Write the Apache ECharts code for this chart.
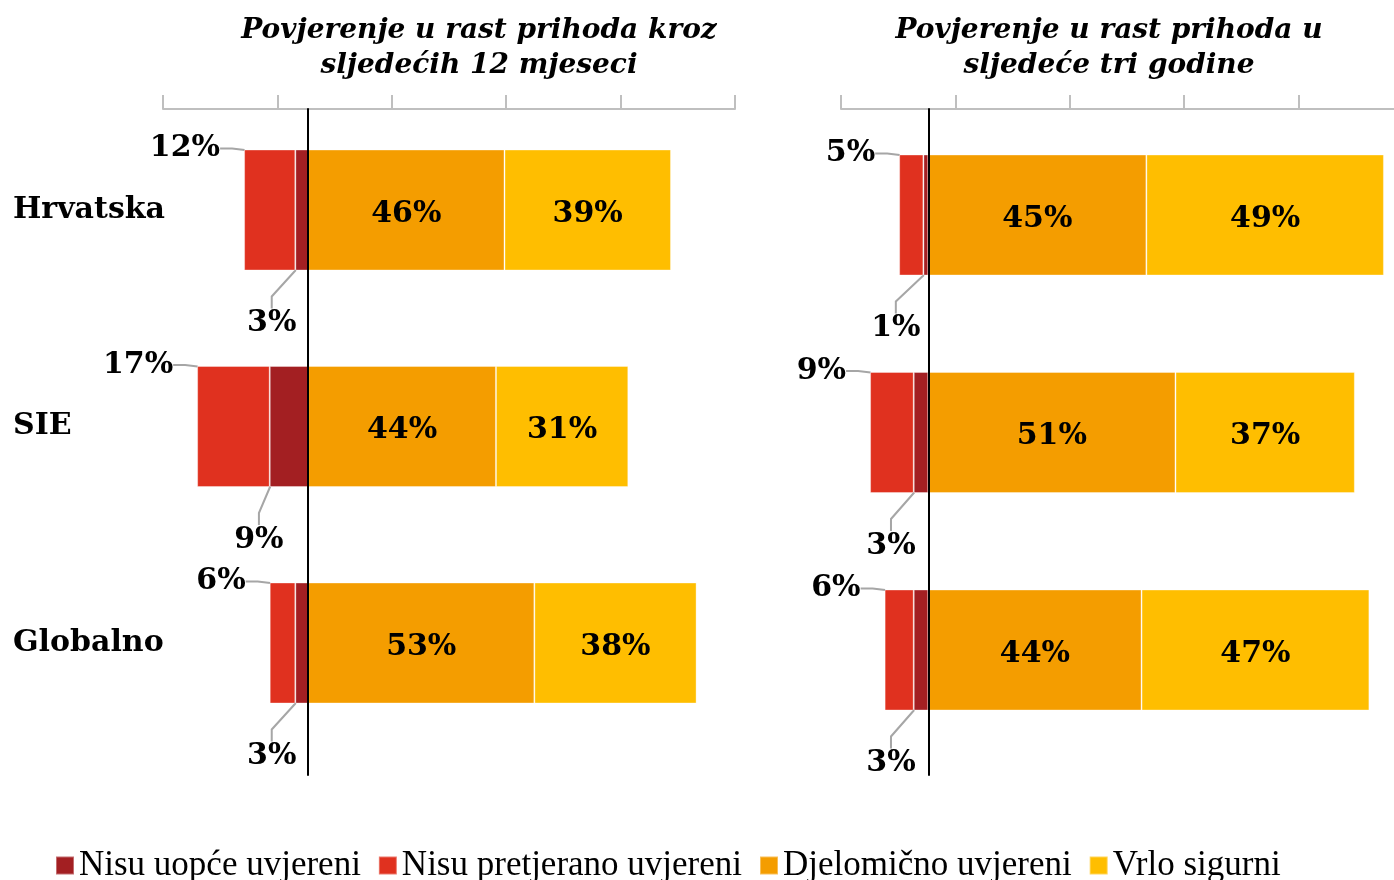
<!DOCTYPE html>
<html>
<head>
<meta charset="utf-8">
<script src="https://cdn.jsdelivr.net/npm/echarts@6/dist/echarts.min.js"></script>
<style>
  html, body { margin: 0; padding: 0; background: #fff; }
  #chart { width: 1394px; height: 880px; }
</style>
</head>
<body>
<div id="chart"></div>
<script>
  var categories = ['Hrvatska', 'SIE', 'Globalno'];
  var seriesNames = ['Nisu uopće uvjereni', 'Nisu pretjerano uvjereni', 'Djelomično uvjereni', 'Vrlo sigurni'];
  var titles = ['Povjerenje u rast prihoda kroz\nsljedećih 12 mjeseci', 'Povjerenje u rast prihoda u\nsljedeće tri godine'];

  // sljedećih 12 mjeseci (%)
  var mj_nisuUopce = [3, 9, 3];
  var mj_nisuPretjerano = [12, 17, 6];
  var mj_djelomicno = [46, 44, 53];
  var mj_vrloSigurni = [39, 31, 38];

  // sljedeće tri godine (%)
  var god_nisuUopce = [1, 3, 3];
  var god_nisuPretjerano = [5, 9, 6];
  var god_djelomicno = [45, 51, 44];
  var god_vrloSigurni = [49, 37, 47];

  var colors = ['#A31F22', '#E0311F', '#F49D00', '#FFBE00'];
  var serif = 'DejaVu Serif';

  var chart = echarts.init(document.getElementById('chart'));

  var labelText = {
    fontFamily: serif,
    fontWeight: 'bold',
    fontSize: 30,
    color: '#000'
  };

  function neg(arr) {
    return arr.map(function (v) { return -v; });
  }
  function pct(p) {
    return Math.abs(p.value) + '%';
  }
  // oznake negativnih dijelova izvan stupca, s linijom
  function layoutBelow(p) {
    return {
      x: p.rect.x + p.rect.width / 2 - 30,
      y: p.rect.y + p.rect.height + 53,
      align: 'center',
      verticalAlign: 'middle'
    };
  }
  function layoutUpLeft(p) {
    return {
      x: p.rect.x - 24,
      y: p.rect.y - 1,
      align: 'right',
      verticalAlign: 'middle'
    };
  }

  var guide = {
    show: true,
    length2: 12,
    lineStyle: { color: '#a6a6a6', width: 2 }
  };

  function makeSeries(idx, data, stack) {
    var list = [];
    var vals = [neg(data[0]), neg(data[1]), data[2], data[3]];
    for (var i = 0; i < 4; i++) {
      var s = {
        name: seriesNames[i],
        type: 'bar',
        stack: stack,
        xAxisIndex: idx,
        yAxisIndex: idx,
        barWidth: 121,
        data: vals[i],
        itemStyle: { color: colors[i], borderColor: 'rgba(255,255,255,0.35)', borderWidth: 1 },
        label: Object.assign({ show: true, formatter: pct }, labelText),
        emphasis: { disabled: true }
      };
      if (i === 0) {
        s.labelLayout = layoutBelow;
        s.labelLine = guide;
      } else if (i === 1) {
        s.labelLayout = layoutUpLeft;
        s.labelLine = guide;
      } else {
        s.label.position = 'inside';
        s.label.offset = [0, 4];
      }
      list.push(s);
    }
    return list;
  }

  var tickAxis = {
    type: 'value',
    position: 'top',
    min: 0,
    max: 5,
    interval: 1,
    axisLine: { show: true, lineStyle: { color: '#bfbfbf', width: 2 } },
    axisTick: { show: true, length: 14, lineStyle: { color: '#bfbfbf', width: 2 } },
    axisLabel: { show: false },
    splitLine: { show: false }
  };

  var titleStyle = { fontFamily: serif, fontStyle: 'italic', fontWeight: 'bold', fontSize: 28, lineHeight: 35, color: '#000' };

  var option = {
    animation: false,
    backgroundColor: '#fff',
    title: [
      { text: titles[0], left: 474, top: 8, textAlign: 'center', textStyle: titleStyle },
      { text: titles[1], left: 1104, top: 8, textAlign: 'center', textStyle: titleStyle }
    ],
    legend: {
      data: seriesNames,
      left: 50,
      top: 843,
      icon: 'rect',
      itemWidth: 18,
      itemHeight: 18,
      itemGap: 17,
      selectedMode: false,
      textStyle: { fontFamily: 'Liberation Serif', fontSize: 35, color: '#000' }
    },
    grid: [
      { left: 163, width: 572, top: 101.75, height: 649.5, outerBoundsMode: 'none' },
      { left: 841, width: 572, top: 106.25, height: 652.5, outerBoundsMode: 'none' },
      { left: 163, width: 572, top: 109, height: 666, outerBoundsMode: 'none' },
      { left: 841, width: 572, top: 109, height: 666, outerBoundsMode: 'none' }
    ],
    xAxis: [
      { gridIndex: 0, type: 'value', min: -34, max: 100, show: false },
      { gridIndex: 1, type: 'value', min: -18, max: 100, show: false },
      { gridIndex: 2, type: 'value', min: -34, max: 100, show: false },
      Object.assign({ gridIndex: 2 }, tickAxis),
      { gridIndex: 3, type: 'value', min: -18, max: 100, show: false },
      Object.assign({ gridIndex: 3 }, tickAxis)
    ],
    yAxis: [
      {
        gridIndex: 0, type: 'category', inverse: true, data: categories,
        axisLine: { show: false, onZero: false },
        axisTick: { show: false },
        axisLabel: { align: 'left', margin: 150, fontFamily: serif, fontWeight: 'bold', fontSize: 30, color: '#000' }
      },
      {
        gridIndex: 1, type: 'category', inverse: true, data: categories,
        axisLine: { show: false, onZero: false },
        axisTick: { show: false },
        axisLabel: { show: false }
      },
      {
        gridIndex: 2, type: 'category', data: categories, z: 10,
        axisLine: { show: true, onZero: true, onZeroAxisIndex: 2, lineStyle: { color: '#000', width: 2 } },
        axisTick: { show: false },
        axisLabel: { show: false }
      },
      {
        gridIndex: 3, type: 'category', data: categories, z: 10,
        axisLine: { show: true, onZero: true, onZeroAxisIndex: 4, lineStyle: { color: '#000', width: 2 } },
        axisTick: { show: false },
        axisLabel: { show: false }
      }
    ],
    series: makeSeries(0, [mj_nisuUopce, mj_nisuPretjerano, mj_djelomicno, mj_vrloSigurni], 'mj')
      .concat(makeSeries(1, [god_nisuUopce, god_nisuPretjerano, god_djelomicno, god_vrloSigurni], 'god'))
  };

  chart.setOption(option);
</script>
</body>
</html>
